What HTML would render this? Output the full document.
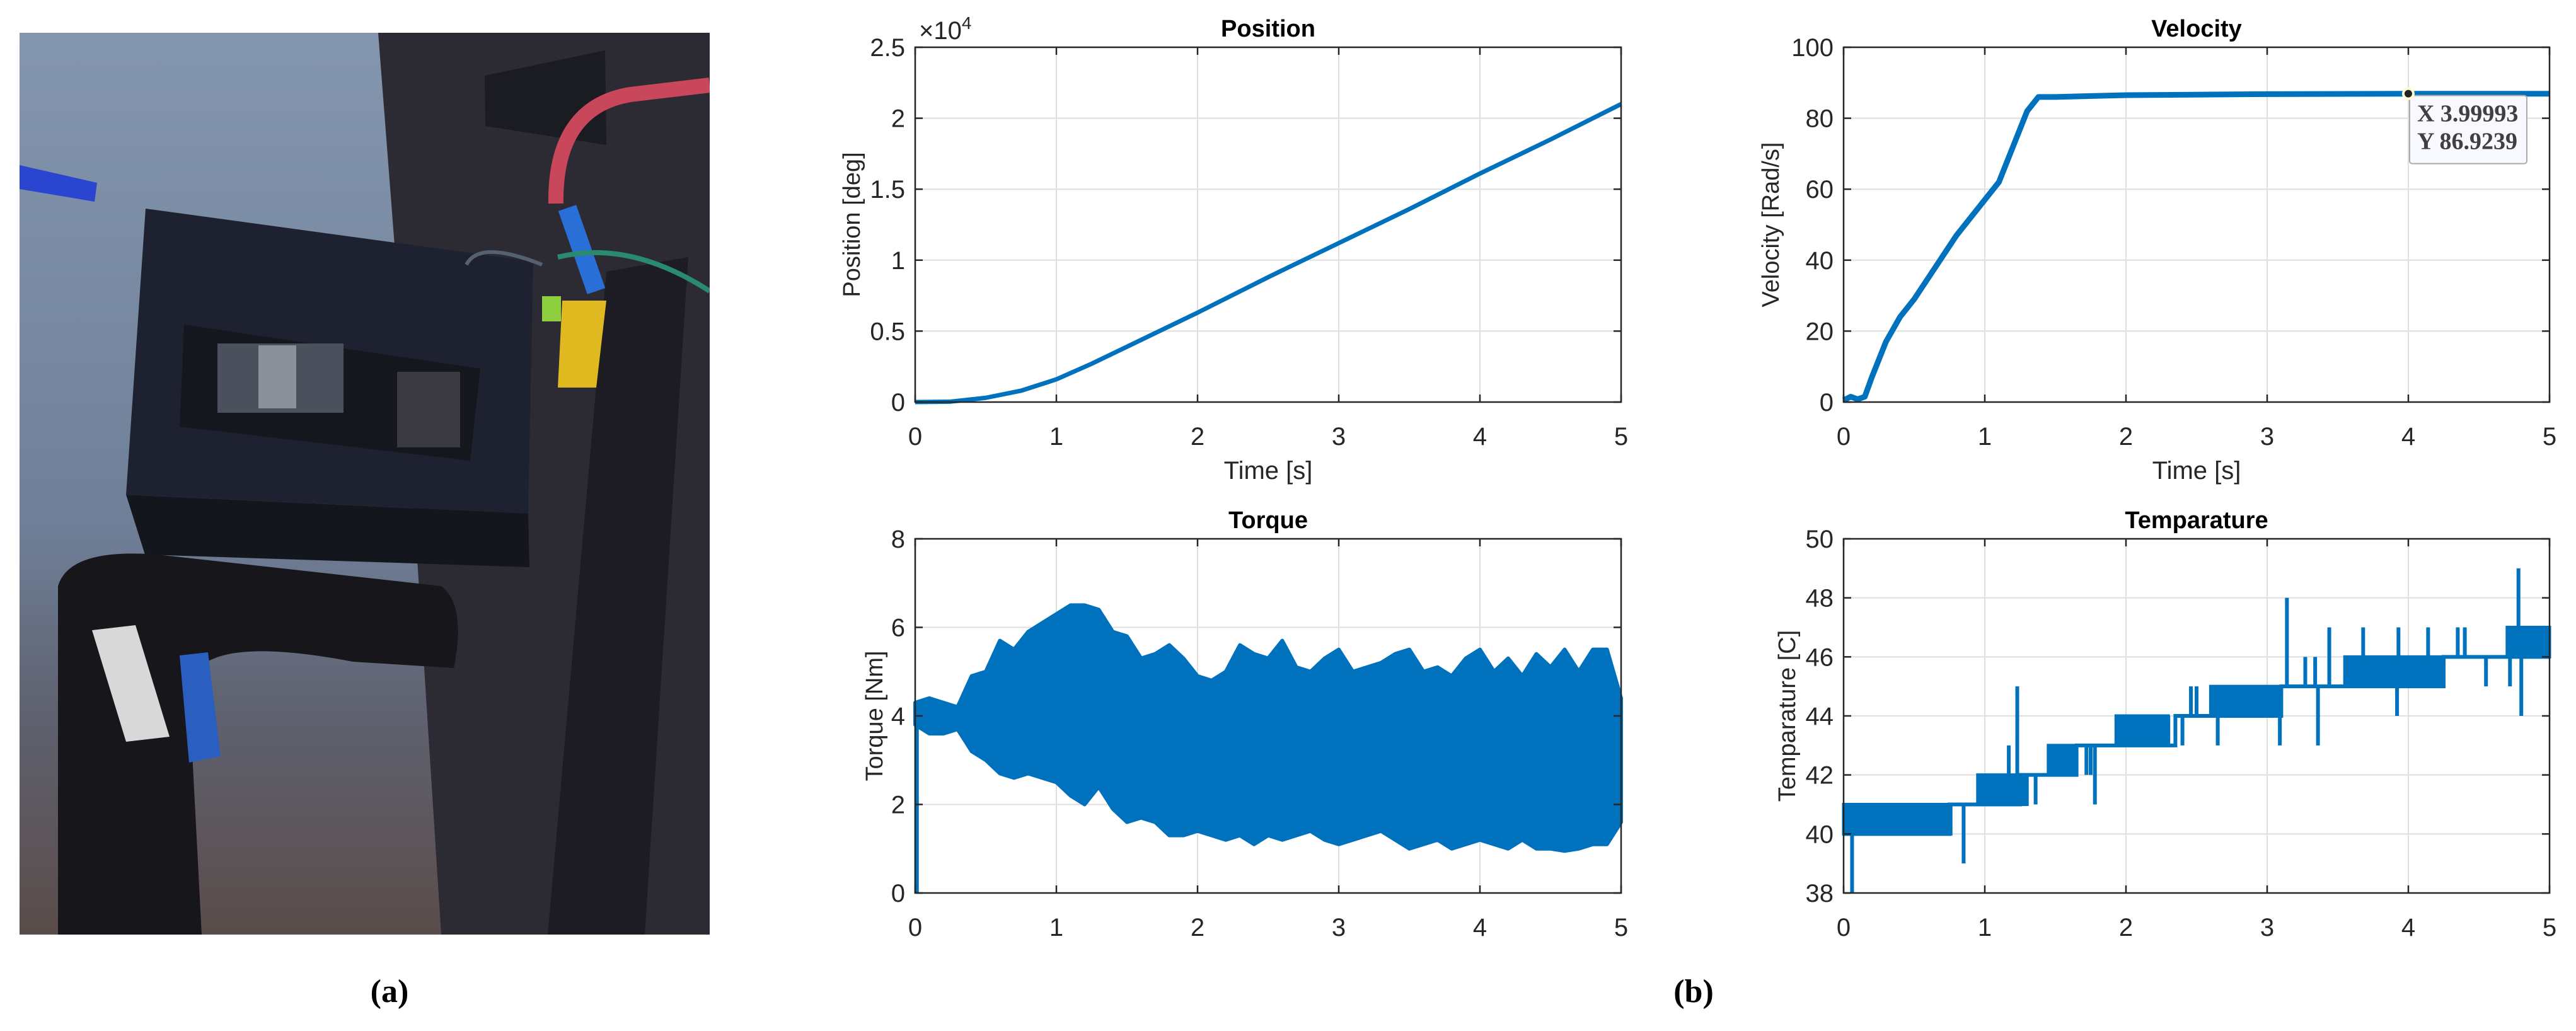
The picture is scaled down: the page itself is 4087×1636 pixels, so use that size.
<!DOCTYPE html>
<html><head><meta charset="utf-8"><style>
html,body{margin:0;padding:0;background:#fff;}
svg{display:block;}
.tick{font-family:"Liberation Sans Narrow","Liberation Sans",sans-serif;font-size:40px;fill:#262626;}
.ttl{font-family:"Liberation Sans Narrow","Liberation Sans",sans-serif;font-size:38px;font-weight:bold;fill:#000;}
.ylab{font-family:"Liberation Sans",sans-serif;font-size:38px;fill:#262626;}
.xlab{font-family:"Liberation Sans Narrow","Liberation Sans",sans-serif;font-size:40px;fill:#262626;}
.cap{font-family:"Liberation Serif",serif;font-size:52px;font-weight:bold;fill:#000;}
.tip{font-family:"Liberation Serif",serif;font-size:38px;font-weight:bold;fill:#404040;}
</style></head><body>
<svg id="fig" width="4087" height="1636" viewBox="0 0 4087 1636" xmlns="http://www.w3.org/2000/svg">
<defs><clipPath id="photoClip"><rect x="31" y="52" width="1095" height="1431"/></clipPath>
<linearGradient id="bgGrad" x1="0" y1="0" x2="0" y2="1"><stop offset="0" stop-color="#8496ae"/><stop offset="0.55" stop-color="#6f7f98"/><stop offset="0.75" stop-color="#5f6270"/><stop offset="1" stop-color="#5a4c4a"/></linearGradient></defs>
<g id="photo" clip-path="url(#photoClip)">
<rect x="31" y="52" width="1095" height="1431" fill="url(#bgGrad)"/>
<polygon points="600,52 1126,52 1126,1483 700,1483 650,700" fill="#2c2b33"/>
<polygon points="31,262 154,290 150,320 31,300" fill="#2a45d0"/>
<polygon points="769,120 960,80 962,230 770,200" fill="#1b1b22"/>
<polygon points="231,331 846,415 838,815 200,785" fill="#1e2230"/>
<polygon points="292,515 762,585 746,731 285,677" fill="#15171e"/>
<rect x="345" y="545" width="200" height="110" fill="#4a505c"/>
<rect x="410" y="548" width="60" height="100" fill="#8a8f98"/>
<rect x="630" y="590" width="100" height="120" fill="#3a3a40"/>
<polygon points="200,785 838,815 840,900 230,880" fill="#14161d"/>
<polygon points="962,431 1092,408 1023,1483 869,1483" fill="#1c1c22"/>
<path d="M92,1483 L92,930 Q110,869 250,880 L700,930 Q740,960 720,1060 L560,1050 Q300,1000 300,1100 L320,1483 Z" fill="#16161b"/>
<polygon points="146,1000 215,992 269,1169 200,1177" fill="#d8d8d8"/>
<polygon points="285,1040 330,1035 350,1200 300,1210" fill="#2a5fc0"/>
<path d="M882,323 Q880,170 1000,150 L1126,135" stroke="#c8475a" stroke-width="24" fill="none"/>
<path d="M900,330 L946,462" stroke="#2a6fd6" stroke-width="30" fill="none"/>
<path d="M885,408 Q1000,380 1126,462" stroke="#2a8a70" stroke-width="8" fill="none"/>
<polygon points="892,477 962,477 946,615 885,615" fill="#e0b820"/>
<rect x="860" y="470" width="30" height="40" fill="#8fd040"/>
<path d="M740,420 Q760,380 860,420" stroke="#556070" stroke-width="6" fill="none"/>
</g>
<text class="cap" x="618" y="1590" text-anchor="middle">(a)</text>
<text class="cap" x="2687" y="1590" text-anchor="middle">(b)</text>
</svg>
<script>
// ---- data ----
const timeTicks=[0,1,2,3,4,5];
const posT=[0,0.25,0.5,0.75,1,1.25,1.5,2,2.5,3,3.5,4,4.5,5];
const posV=[0,30,300,800,1600,2700,3900,6300,8800,11200,13600,16100,18500,21000];
const posTicks=[0,0.5,1,1.5,2,2.5];
const velT=[0,0.05,0.1,0.15,0.2,0.3,0.4,0.5,0.6,0.7,0.8,0.9,1.0,1.1,1.2,1.3,1.38,1.5,2,3,4,5];
const velV=[0.5,1.5,0.8,1.5,7,17,24,29,35,41,47,52,57,62,72,82,86,86,86.5,86.8,86.9,86.9];
const velTicks=[0,20,40,60,80,100];
const torT=[0,0.1,0.2,0.3,0.4,0.5,0.6,0.7,0.8,0.9,1.0,1.1,1.2,1.3,1.4,1.5,1.6,1.7,1.8,1.9,2.0,2.1,2.2,2.3,2.4,2.5,2.6,2.7,2.8,2.9,3.0,3.1,3.2,3.3,3.4,3.5,3.6,3.7,3.8,3.9,4.0,4.1,4.2,4.3,4.4,4.5,4.6,4.7,4.8,4.9,5.0];
const torUpper=[4.3,4.4,4.3,4.2,4.9,5.0,5.7,5.5,5.9,6.1,6.3,6.5,6.5,6.4,5.9,5.8,5.3,5.4,5.6,5.3,4.9,4.8,5.0,5.6,5.4,5.3,5.7,5.1,5.0,5.3,5.5,5.0,5.1,5.2,5.4,5.5,5.0,5.1,4.9,5.3,5.5,5.0,5.3,4.9,5.4,5.1,5.5,5.0,5.5,5.5,4.4];
const torLower=[3.8,3.6,3.6,3.7,3.2,3.0,2.7,2.6,2.7,2.6,2.5,2.2,2.0,2.4,1.9,1.6,1.7,1.6,1.3,1.3,1.4,1.3,1.2,1.3,1.1,1.3,1.2,1.3,1.4,1.2,1.1,1.2,1.3,1.4,1.2,1.0,1.1,1.2,1.0,1.1,1.2,1.1,1.0,1.2,1.0,1.0,0.95,1.0,1.1,1.1,1.6];
const torTicks=[0,2,4,6,8];
const tempStepT=[0,0.75,0.95,1.25,1.45,1.65,1.93,2.35,2.6,3.1,3.55,4.25,4.7,5];
const tempStepV=[40,41,41,42,42,43,43,44,44,45,45,46,46,46];
const bandStart=[0,0.95,1.45,1.93,2.6,3.55,4.7];
const bandEnd=[0.76,1.3,1.65,2.3,3.1,4.24,5];
const bandLow=[40,41,42,43,44,45,46];
const bandHigh=[41,42,43,44,45,46,47];
const spikeT=[0.06,0.85,1.23,1.17,1.36,1.78,3.14,3.09,3.36,3.44,3.27,3.34,3.68,3.93,3.92,4.14,4.35,4.4,4.78,4.8,2.46,2.5,2.65,2.4,2.3,1.75,4.55,4.72,1.72];
const spikeFrom=[40,41,42,42,42,43,45,44,45,45,45,45,46,46,45,46,46,46,46,46,44,44,44,44,44,43,46,46,43];
const spikeTo=[38,39,45,43,41,41,48,43,43,47,46,46,47,47,44,47,47,47,49,44,45,45,43,43,43,42,45,45,42];
const tempTicks=[38,40,42,44,46,48,50];

const NS="http://www.w3.org/2000/svg";
const svg=document.getElementById('fig');
const BLUE="#0072BD";
function mk(tag,attrs,parent){const e=document.createElementNS(NS,tag);for(const k in attrs)e.setAttribute(k,attrs[k]);(parent||svg).appendChild(e);return e;}

function axes(c){
  const g=mk('g',{});
  
  
  const sx=v=>c.x0+(v-c.xmin)/(c.xmax-c.xmin)*(c.x1-c.x0);
  const sy=v=>c.y1-(v-c.ymin)/(c.ymax-c.ymin)*(c.y1-c.y0);
  c.xticks.forEach(v=>{const x=sx(v);
    if(v>c.xmin&&v<c.xmax){const l=mk('line',{x1:x,x2:x,y1:c.y0,y2:c.y1,stroke:'#dfdfdf','stroke-width':2},g);}
  });
  c.yticks.forEach(v=>{const y=sy(v);
    if(v>c.ymin&&v<c.ymax){const l=mk('line',{x1:c.x0,x2:c.x1,y1:y,y2:y,stroke:'#dfdfdf','stroke-width':2},g);}
  });
  return {g,sx,sy};
}
function frame(c,A){
  const g=A.g;
  const r=mk('rect',{x:c.x0,y:c.y0,width:c.x1-c.x0,height:c.y1-c.y0,fill:'none',stroke:'#262626','stroke-width':2.5},g);
  
  c.xticks.forEach((v,i)=>{const x=A.sx(v);
    mk('line',{x1:x,x2:x,y1:c.y1,y2:c.y1-12,stroke:'#262626','stroke-width':2.5},g);
    mk('line',{x1:x,x2:x,y1:c.y0,y2:c.y0+12,stroke:'#262626','stroke-width':2.5},g);
    const t=mk('text',{x:x,y:c.y1+68,'text-anchor':'middle',class:'tick'},g);t.textContent=c.xlabels[i];
    
  });
  c.yticks.forEach((v,i)=>{const y=A.sy(v);
    mk('line',{x1:c.x0,x2:c.x0+12,y1:y,y2:y,stroke:'#262626','stroke-width':2.5},g);
    mk('line',{x1:c.x1,x2:c.x1-12,y1:y,y2:y,stroke:'#262626','stroke-width':2.5},g);
    const t=mk('text',{x:c.x0-16,y:y+14,'text-anchor':'end',class:'tick'},g);t.textContent=c.ylabels[i];
    
  });
  const tt=mk('text',{x:(c.x0+c.x1)/2,y:c.y0-17,'text-anchor':'middle',class:'ttl'},g);tt.textContent=c.title;
  
  const cy=(c.y0+c.y1)/2;
  const yl=mk('text',{x:c.ylx,y:cy,'text-anchor':'middle',class:'ylab',transform:`rotate(-90 ${c.ylx} ${cy})`},g);yl.textContent=c.ylabel;
  
  if(c.xlabel){const xl=mk('text',{x:(c.x0+c.x1)/2,y:c.y1+122,'text-anchor':'middle',class:'xlab'},g);xl.textContent=c.xlabel;
    }
}
const tl=timeTicks.map(String);

// Position
const cP={name:'position',x0:1452,x1:2572,y0:75,y1:638,xmin:0,xmax:5,ymin:0,ymax:25000,xticks:timeTicks,xlabels:tl,yticks:posTicks.map(v=>v*1e4),ylabels:posTicks.map(String),title:'Position',ylabel:'Position [deg]',xlabel:'Time [s]',ylx:1364};
const AP=axes(cP);
const lp=mk('polyline',{points:posT.map((t,i)=>AP.sx(t)+','+AP.sy(posV[i])).join(' '),fill:'none',stroke:BLUE,'stroke-width':7,'stroke-linejoin':'round'},AP.g);

frame(cP,AP);
const ex=mk('text',{x:1458,y:62,class:'tick'},AP.g);ex.innerHTML='×10<tspan dy="-16" font-size="28">4</tspan>';


// Velocity
const cV={name:'velocity',x0:2925,x1:4045,y0:75,y1:638,xmin:0,xmax:5,ymin:0,ymax:100,xticks:timeTicks,xlabels:tl,yticks:velTicks,ylabels:velTicks.map(String),title:'Velocity',ylabel:'Velocity [Rad/s]',xlabel:'Time [s]',ylx:2822};
const AV=axes(cV);
const lv=mk('polyline',{points:velT.map((t,i)=>AV.sx(t)+','+AV.sy(velV[i])).join(' '),fill:'none',stroke:BLUE,'stroke-width':9,'stroke-linejoin':'round'},AV.g);

frame(cV,AV);
// datatip
const dtx=3.99993, dty=86.9239;
const tipG=mk('g',{});


const px=AV.sx(dtx), py=AV.sy(dty);
mk('rect',{x:px+2,y:py+3,width:186,height:108,rx:4,fill:'#f8f8ff',stroke:'#aaaaaa','stroke-width':2},tipG);
mk('circle',{cx:px,cy:py,r:10,fill:'#fffbd8'},tipG);
mk('circle',{cx:px,cy:py,r:6,fill:'#222'},tipG);
const t1=mk('text',{x:px+14,y:py+44,class:'tip'},tipG);t1.textContent='X 3.99993';
const t2=mk('text',{x:px+14,y:py+88,class:'tip'},tipG);t2.textContent='Y 86.9239';

// Torque
const cT={name:'torque',x0:1452,x1:2572,y0:855,y1:1417,xmin:0,xmax:5,ymin:0,ymax:8,xticks:timeTicks,xlabels:tl,yticks:torTicks,ylabels:torTicks.map(String),title:'Torque',ylabel:'Torque [Nm]',xlabel:null,ylx:1400};
const AT=axes(cT);
const up=torT.map((t,i)=>AT.sx(t)+','+AT.sy(torUpper[i]));
const lo=torT.map((t,i)=>AT.sx(t)+','+AT.sy(torLower[i])).reverse();
const ta=mk('polygon',{points:up.concat(lo).join(' '),fill:BLUE,stroke:BLUE,'stroke-width':6,'stroke-linejoin':'round'},AT.g);

const t0=mk('line',{x1:AT.sx(0.01),x2:AT.sx(0.01),y1:AT.sy(0),y2:AT.sy(torUpper[0]),stroke:BLUE,'stroke-width':7},AT.g);

frame(cT,AT);

// Temperature
const cM={name:'temperature',x0:2925,x1:4045,y0:855,y1:1417,xmin:0,xmax:5,ymin:38,ymax:50,xticks:timeTicks,xlabels:tl,yticks:tempTicks,ylabels:tempTicks.map(String),title:'Temparature',ylabel:'Temparature [C]',xlabel:null,ylx:2848};
const AM=axes(cM);
bandStart.forEach((s,i)=>{
  const b=mk('rect',{x:AM.sx(s),y:AM.sy(bandHigh[i]),width:AM.sx(bandEnd[i])-AM.sx(s),height:AM.sy(bandLow[i])-AM.sy(bandHigh[i]),fill:BLUE,stroke:BLUE,'stroke-width':5},AM.g);
  
});
let sp=[];tempStepT.forEach((t,i)=>{if(i>0)sp.push(AM.sx(t)+','+AM.sy(tempStepV[i-1]));sp.push(AM.sx(t)+','+AM.sy(tempStepV[i]));});
const sl=mk('polyline',{points:sp.join(' '),fill:'none',stroke:BLUE,'stroke-width':6},AM.g);

spikeT.forEach((t,i)=>{
  const s=mk('line',{x1:AM.sx(t),x2:AM.sx(t),y1:AM.sy(spikeFrom[i]),y2:AM.sy(spikeTo[i]),stroke:BLUE,'stroke-width':6},AM.g);
  
});
frame(cM,AM);
</script>
</body></html>
